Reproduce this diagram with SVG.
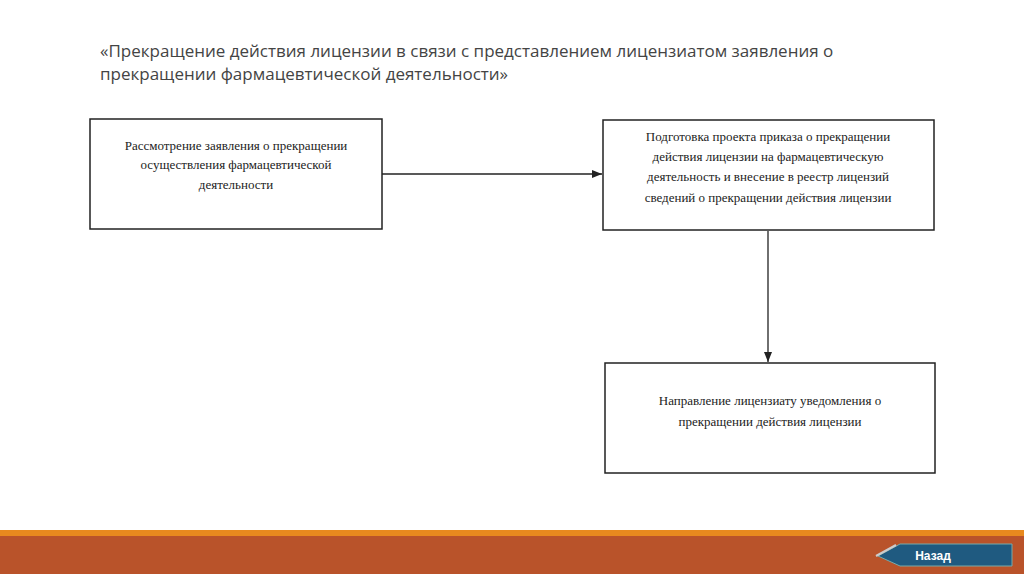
<svg xmlns="http://www.w3.org/2000/svg" width="1024" height="574" viewBox="0 0 1024 574">
<defs>
<style>
.box{fill:#fff;stroke:#222;stroke-width:1.5}
.t{font-family:"Liberation Serif",serif;font-size:13px;fill:#222;text-anchor:middle}
.h{font-family:"Open Sans","Liberation Sans",sans-serif;font-size:17px;fill:#444}
</style>
<marker id="a" viewBox="0 0 10 10" refX="10" refY="5" markerWidth="8" markerHeight="8" orient="auto"><path d="M0,1 L10,5 L0,9 z" fill="#222"/></marker>
</defs>
<rect width="1024" height="574" fill="#fff"/>
<text class="h" x="100" y="57">«Прекращение действия лицензии в связи с представлением лицензиатом заявления о</text>
<text class="h" x="100" y="80">прекращении фармацевтической деятельности»</text>
<g id="n1"><rect class="box" x="90" y="119" width="292" height="110"/>
<text class="t" x="236" y="150">Рассмотрение заявления о прекращении</text>
<text class="t" x="236" y="169">осуществления фармацевтической</text>
<text class="t" x="236" y="189">деятельности</text></g>
<g id="n2"><rect class="box" x="603" y="120" width="331" height="110"/>
<text class="t" x="768" y="141">Подготовка проекта приказа о прекращении</text>
<text class="t" x="768" y="161">действия лицензии на фармацевтическую</text>
<text class="t" x="768" y="181">деятельность и внесение в реестр лицензий</text>
<text class="t" x="768" y="202">сведений о прекращении действия лицензии</text></g>
<g id="n3"><rect class="box" x="605" y="363" width="330" height="110"/>
<text class="t" x="770" y="405">Направление лицензиату уведомления о</text>
<text class="t" x="770" y="426">прекращении действия лицензии</text></g>
<g id="edges" stroke="#222" stroke-width="1.3" fill="none">
<line x1="382" y1="174" x2="602" y2="174" marker-end="url(#a)"/>
<line x1="768" y1="231" x2="768" y2="362" marker-end="url(#a)"/>
</g>
<rect x="0" y="530" width="1024" height="6" fill="#e8891e"/>
<rect x="0" y="536" width="1024" height="38" fill="#b9532a"/>
<g id="back">
<path d="M878,556 L900,544 L1012,544 L1012,566 L900,566 z" fill="#1f5a80" stroke="#7aa" stroke-width="1"/>
<path d="M876,556 L896,545" stroke="#ccc" stroke-width="2"/>
<text x="933" y="560" font-family="Liberation Sans,sans-serif" font-weight="bold" font-size="12" fill="#fff" text-anchor="middle">Назад</text>
</g>
</svg>
